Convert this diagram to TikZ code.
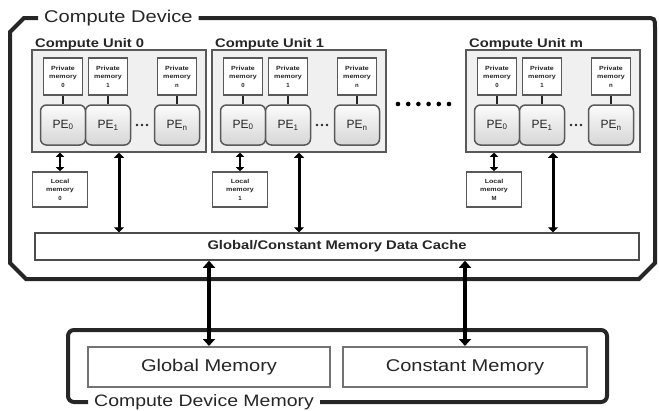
\documentclass[tikz,border=0pt]{standalone}
\usepackage{graphicx}
\usepackage{fontspec}
\setmainfont{Liberation Sans}
\usetikzlibrary{arrows.meta,positioning,calc}
\newcommand{\sx}[1]{\scalebox{1.18}[1]{#1}}
\tikzset{
  devframe/.style={line width=4pt,black!85},
  framelbl/.style={inner sep=6pt,text=black!85,font=\fontsize{17}{20}\selectfont},
  unit/.style    ={draw=gray!70!black,line width=1.5pt,fill=gray!12,inner sep=0pt,
                   minimum width=174pt,minimum height=102pt},
  unitlbl/.style ={inner sep=0pt,text=black!85,font=\bfseries\fontsize{12.5}{14}\selectfont},
  pmem/.style    ={draw=gray!70!black,line width=1.6pt,fill=white,inner sep=0pt,
                   minimum width=39pt,minimum height=37pt,align=center,text=black!85,
                   font=\bfseries\fontsize{6}{8.5}\selectfont},
  lmem/.style    ={pmem,minimum width=55pt,minimum height=35pt},
  pe/.style      ={draw=gray!70!black,line width=1.5pt,rounded corners=6pt,inner sep=0pt,
                   top color=gray!3,bottom color=gray!32,minimum width=45pt,minimum height=40pt,
                   text=black!85,font=\fontsize{12}{14}\selectfont},
  cache/.style   ={draw=gray!60!black,line width=1.5pt,fill=white,inner sep=0pt,
                   minimum width=604pt,minimum height=27pt,text=black!85,
                   font=\bfseries\fontsize{12.5}{14}\selectfont},
  store/.style   ={draw=gray!90!black,line width=2pt,fill=white,inner sep=0pt,
                   minimum height=40pt,text=black!85,font=\fontsize{17}{20}\selectfont},
  link/.style    ={line width=1.5pt,black!85},
  lbus/.style    ={{Triangle[length=4pt,width=8pt]}-{Triangle[length=4pt,width=8pt]},line width=2.5pt,black},
  bus/.style     ={{Triangle[length=5pt,width=10pt]}-{Triangle[length=5pt,width=10pt]},line width=3pt,black},
  membus/.style  ={{Triangle[length=7pt,width=12pt]}-{Triangle[length=7pt,width=12pt]},line width=3.5pt,black},
}
\begin{document}
\begin{tikzpicture}[x=1pt,y=-1pt]
  \useasboundingbox (0,0) rectangle (659,410);
  % compute device frame, left open for its label
  \node[framelbl,anchor=west] (devlbl) at (38,18) {\sx{Compute Device}};
  \draw[devframe] (devlbl.east) -- (645,18) .. controls (655,18) .. (655,28)
        -- (655,263) -- (639,279) -- (26,279) -- (10,263) -- (10,32) -- (24,18) -- (devlbl.west);
  \node[cache] (cache) at (337,246.5) {\sx{Global/Constant Memory Data Cache}};
  % compute units
  \foreach \u/\X/\lm in {0/32/0, 1/212/1, m/466/M}{
    \begin{scope}[shift={(\X,0)}]
      \node[unit] (cu\u) at (87,101) {};
      \node[unitlbl,anchor=base west] (cu\u-lbl) at (3,47.5) {\sx{Compute Unit \u}};
      \foreach \p/\c in {0/31, 1/76, n/145}{
        \node[pmem] (pm\u-\p) at (\c,76.5) {\sx{Private}\\\sx{memory}\\\p};
        \node[pe]   (pe\u-\p) at (\c,125) {PE\textsubscript{\p}};
        \draw[link] (pm\u-\p) -- (pe\u-\p);
      }
      \foreach \i in {0,1,2} \fill[black!85] (105+\i*5,125) circle (1.4);
      \node[lmem] (lm\u) at (28,189.5) {\sx{Local}\\\sx{memory}\\\lm};
      \draw[lbus] (lm\u) -- (lm\u |- cu\u.south);
      \draw[bus] (cu\u) -- (cu\u |- cache.north);
    \end{scope}
  }
  \foreach \i in {0,...,5} \fill[black] (398+\i*10.2,104) circle (2.3);
  % compute device memory
  \node[framelbl,anchor=west,font=\fontsize{16.5}{20}\selectfont] (memlbl) at (88,402)
        {\sx{Compute Device Memory}};
  \draw[devframe,rounded corners=6pt] (memlbl.east) -- (607,402) -- (607,330)
        -- (68,330) -- (68,402) -- (memlbl.west);
  \node[store,minimum width=242pt] (glob)  at (209,367) {\sx{Global Memory}};
  \node[store,minimum width=244pt] (const) at (465,367) {\sx{Constant Memory}};
  \draw[membus] (glob |- cache.south) -- (glob);
  \draw[membus] (const |- cache.south) -- (const);
\end{tikzpicture}
\end{document}
